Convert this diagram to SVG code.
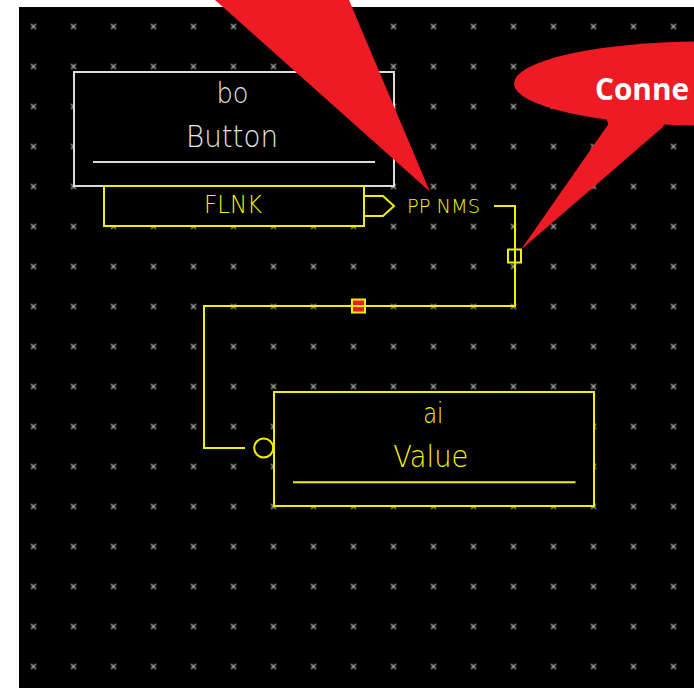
<svg xmlns="http://www.w3.org/2000/svg" width="694" height="688" viewBox="0 0 694 688">
  <style>
    .wbox { fill: #000; stroke: #dcdcdc; stroke-width: 2; }
    .ybox { fill: #000; stroke: #f0f000; stroke-width: 2; }
    .wline { stroke: #dcdcdc; stroke-width: 2; }
    .yline { stroke: #f0f000; stroke-width: 2; fill: none; }
    .wtxt { font-family: "DejaVu Sans", sans-serif; font-weight: 200; fill: #e6e6e6; text-anchor: middle; }
    .ytxt { font-family: "DejaVu Sans", sans-serif; font-weight: 200; fill: #f5f500; }
    .callout { fill: #ed1c24; }
  </style>
  <defs>
    <pattern id="grid" patternUnits="userSpaceOnUse" x="13.5" y="6.5" width="40" height="40">
      <path d="M17.5,17.5 L22.5,22.5 M22.5,17.5 L17.5,22.5" stroke="#a8a8a8" stroke-width="1.4"/>
    </pattern>
  </defs>
  <rect x="0" y="0" width="694" height="688" fill="#fff"/>
  <rect x="19" y="7" width="675" height="681" fill="#000"/>
  <rect x="19" y="7" width="675" height="681" fill="url(#grid)"/>

  <g id="connectors">
    <polyline class="yline" points="494,206 515,206 515,306 204,306 204,448 245,448"/>
    <rect x="508" y="249.5" width="13" height="13" class="yline"/>
    <rect x="352" y="299.5" width="13" height="13" fill="#ed1c24" stroke="#f0f000" stroke-width="2"/>
    <line x1="352" y1="306" x2="365" y2="306" class="yline"/>
  </g>

  <g id="node-bo">
    <rect x="74" y="72" width="320" height="114" class="wbox"/>
    <text x="232.5" y="102.7" class="wtxt" font-size="28" textLength="32" lengthAdjust="spacingAndGlyphs">bo</text>
    <text x="232" y="147" class="wtxt" font-size="30" textLength="92" lengthAdjust="spacingAndGlyphs">Button</text>
    <line x1="93" y1="162" x2="375" y2="162" class="wline"/>
    <rect x="104" y="186" width="260" height="40" class="ybox"/>
    <text x="204" y="213" class="ytxt" font-size="24" textLength="58" lengthAdjust="spacingAndGlyphs">FLNK</text>
    <polyline class="yline" points="364,196 383,196 394,206 383,216 364,216"/>
    <text x="407" y="213.3" class="ytxt" font-size="20" textLength="73" lengthAdjust="spacingAndGlyphs">PP NMS</text>
  </g>

  <g id="node-ai">
    <rect x="274" y="392" width="320" height="114" class="ybox"/>
    <circle cx="263.7" cy="448" r="9.5" class="yline"/>
    <text x="423.3" y="423.3" class="ytxt" font-size="29" textLength="20" lengthAdjust="spacingAndGlyphs">ai</text>
    <text x="393.3" y="467.3" class="ytxt" font-size="30" textLength="75" lengthAdjust="spacingAndGlyphs">Value</text>
    <line x1="293" y1="482.3" x2="575.5" y2="482.3" class="yline"/>
  </g>

  <g id="callouts">
    <polygon class="callout" points="215,0 349,0 430,191.7"/>
    <ellipse class="callout" cx="705" cy="83.5" rx="191" ry="42"/>
    <polygon class="callout" points="606,118 666,118 663.3,126.7 520.7,250 608.3,124.3"/>
    <text x="595" y="100" font-family="'Open Sans', 'Liberation Sans', sans-serif" font-weight="bold" font-size="31" fill="#fff" textLength="94" lengthAdjust="spacingAndGlyphs">Conne</text>
  </g>
</svg>
